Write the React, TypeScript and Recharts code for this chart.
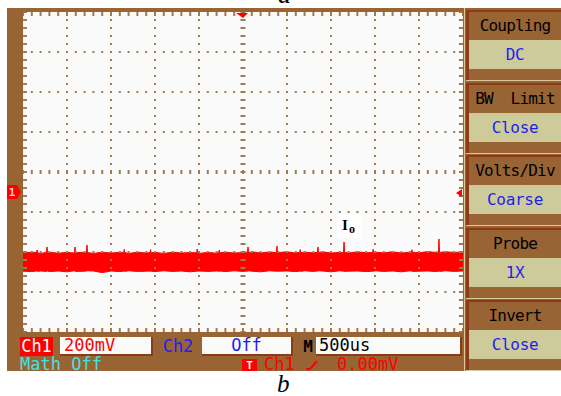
import React from 'react';
import { ComposedChart, Area, XAxis, YAxis, ReferenceLine, ReferenceDot } from 'recharts';

// ---- trace data (time in µs, voltage in mV) ----
const TIME_US = [
  0, 100, 154, 160, 166, 200, 267, 273, 279, 300,
  400, 500, 585, 591, 597, 700, 721, 727, 733, 800,
  900, 1000, 1100, 1144, 1150, 1156, 1200, 1300, 1400, 1444,
  1450, 1456, 1500, 1600, 1700, 1800, 1900, 1974, 1980, 1986,
  2000, 2100, 2200, 2224, 2230, 2236, 2300, 2400, 2500, 2551,
  2557, 2563, 2600, 2700, 2800, 2880, 2886, 2892, 2900, 3000,
  3100, 3144, 3150, 3156, 3200, 3300, 3346, 3352, 3358, 3400,
  3500, 3600, 3642, 3648, 3654, 3700, 3800, 3900, 3974, 3980,
  3986, 4000, 4100, 4200, 4300, 4400, 4414, 4420, 4426, 4500,
  4600, 4700, 4721, 4727, 4733, 4800, 4900, 5000,
];
const TOP_MV = [
  -404, -401, -403, -390, -405, -407, -402, -375, -404, -401,
  -406, -402, -405, -375, -403, -402, -406, -365, -403, -407,
  -401, -405, -402, -404, -387, -403, -407, -401, -405, -403,
  -388, -404, -402, -407, -401, -405, -403, -404, -385, -402,
  -407, -402, -406, -403, -390, -404, -401, -405, -403, -401,
  -375, -404, -399, -405, -400, -403, -370, -404, -403, -399,
  -405, -402, -388, -403, -401, -404, -402, -375, -403, -399,
  -405, -402, -404, -350, -402, -405, -399, -404, -402, -386,
  -403, -401, -404, -399, -405, -401, -402, -389, -401, -404,
  -398, -403, -401, -335, -402, -399, -402, -400,
];
const BOTTOM_MV = [
  -496, -498, -495, -496, -497, -495, -497, -496, -495, -498,
  -495, -499, -494, -496, -497, -496, -495, -496, -494, -495,
  -503, -495, -498, -496, -495, -497, -494, -497, -496, -495,
  -497, -496, -498, -494, -497, -495, -499, -496, -495, -497,
  -495, -497, -495, -496, -497, -495, -498, -494, -497, -495,
  -497, -494, -496, -499, -494, -496, -495, -497, -496, -495,
  -498, -496, -495, -497, -494, -497, -495, -496, -494, -495,
  -499, -494, -496, -495, -497, -496, -495, -498, -496, -495,
  -497, -494, -497, -495, -499, -494, -496, -495, -497, -496,
  -495, -498, -496, -495, -497, -494, -497, -495,
];

// ---- graticule ----
const X_DOMAIN = [0, 5000];
const Y_DOMAIN = [-800, 800];
const X_GRID_US = [500, 1000, 1500, 2000, 3000, 3500, 4000, 4500];
const Y_GRID_MV = [-600, -400, -200, 200, 400, 600];
const GROUND_MV = -100;
const TRIG_LEVEL_MV = -105;
const TRIG_TIME_US = 2500;

// ---- texts ----
const MENU_TITLES = ['Coupling', 'BW  Limit', 'Volts/Div', 'Probe', 'Invert'];
const MENU_VALUES = ['DC', 'Close', 'Coarse', '1X', 'Close'];
const CH1_LABEL = 'Ch1';
const CH1_SCALE = '200mV';
const CH2_LABEL = 'Ch2';
const CH2_STATE = 'Off';
const TIMEBASE_LABEL = 'M';
const TIMEBASE = '500us';
const MATH_STATE = 'Math Off';
const TRIG_SRC = 'Ch1';
const TRIG_LEVEL = '0.00mV';
const TRACE_LABEL = 'I';
const TRACE_SUB = 'o';

const data = TIME_US.map((t, i) => ({ t, band: [BOTTOM_MV[i], TOP_MV[i]] }));

const BROWN = '#986434';
const RUST = '#8E3A14';
const BEIGE = '#CECB9B';
const DOT = '#A27A4C';
const MONO = '"DejaVu Sans Mono", "Liberation Mono", monospace';
const BLUE = '#1E1EF0';

const abs = (l: number, t: number, w: number, h: number, extra: any = {}): any => ({
  position: 'absolute', left: l, top: t, width: w, height: h, boxSizing: 'border-box', ...extra,
});

const centerText = (color: string, size: number): any => ({
  display: 'flex', alignItems: 'center', justifyContent: 'center',
  color, fontFamily: MONO, fontSize: size, whiteSpace: 'pre', lineHeight: 1,
});

export default function App() {
  const X_EDGE = 22.73; // 2px in µs
  const Y_EDGE = 10; // 2px in mV
  return (
    <div style={{ position: 'absolute', left: 0, top: 0, width: 561, height: 396, background: '#fff', overflow: 'hidden' }}>
      {/* frame */}
      <div style={abs(7, 8, 554, 363, { background: BROWN })} />
      <div style={abs(23, 12, 440, 320, { background: '#FAFAFA' })} />
      <div style={abs(464, 8, 1, 363, { background: '#D9C9A0' })} />

      <ComposedChart
        width={561}
        height={396}
        data={data}
        margin={{ top: 12, right: 98, bottom: 64, left: 23 }}
        style={{ position: 'absolute', left: 0, top: 0 }}
      >
        <XAxis dataKey="t" type="number" domain={X_DOMAIN} hide allowDataOverflow />
        <YAxis type="number" domain={Y_DOMAIN} hide allowDataOverflow />
        {Y_GRID_MV.map((v) => (
          <ReferenceLine key={'h' + v} y={v} stroke={DOT} strokeWidth={2} strokeDasharray="2 6.8" strokeDashoffset={1} />
        ))}
        {X_GRID_US.map((v) => (
          <ReferenceLine key={'v' + v} x={v} stroke={DOT} strokeWidth={2} strokeDasharray="2 6" strokeDashoffset={1} />
        ))}
        <ReferenceLine y={0} stroke={DOT} strokeWidth={4} strokeDasharray="2 6.8" strokeDashoffset={1} />
        <ReferenceLine x={TRIG_TIME_US} stroke={DOT} strokeWidth={5} strokeDasharray="2 6" strokeDashoffset={1} />
        <ReferenceLine y={Y_DOMAIN[1] - Y_EDGE} stroke={DOT} strokeWidth={4} strokeDasharray="2 6.8" strokeDashoffset={1} />
        <ReferenceLine y={Y_DOMAIN[0] + Y_EDGE} stroke={DOT} strokeWidth={4} strokeDasharray="2 6.8" strokeDashoffset={1} />
        <ReferenceLine x={X_DOMAIN[0] + X_EDGE} stroke={DOT} strokeWidth={4} strokeDasharray="2 6" strokeDashoffset={1} />
        <ReferenceLine x={X_DOMAIN[1] - X_EDGE} stroke={DOT} strokeWidth={4} strokeDasharray="2 6" strokeDashoffset={1} />
        <Area
          dataKey="band"
          type="linear"
          stroke="#FF0000"
          strokeWidth={1}
          fill="#FF0000"
          fillOpacity={1}
          isAnimationActive={false}
          dot={false}
          activeDot={false}
        />
        <ReferenceDot
          x={X_DOMAIN[0]}
          y={GROUND_MV}
          shape={(p: any) => (
            <g>
              <polygon
                points={`${p.cx - 16},${p.cy - 7} ${p.cx - 6},${p.cy - 7} ${p.cx - 2},${p.cy} ${p.cx - 6},${p.cy + 7} ${p.cx - 16},${p.cy + 7}`}
                fill="#FF0000"
              />
              <text x={p.cx - 11} y={p.cy + 4} fill="#FFD0D0" fontSize={11} fontFamily={MONO} fontWeight="bold" textAnchor="middle">1</text>
            </g>
          )}
        />
        <ReferenceDot
          x={X_DOMAIN[1]}
          y={TRIG_LEVEL_MV}
          shape={(p: any) => (
            <polygon points={`${p.cx - 7},${p.cy} ${p.cx - 1},${p.cy - 4} ${p.cx - 1},${p.cy + 4}`} fill="#FF0000" />
          )}
        />
        <ReferenceDot
          x={TRIG_TIME_US}
          y={Y_DOMAIN[1]}
          shape={(p: any) => (
            <polygon points={`${p.cx - 7},${p.cy + 1} ${p.cx + 5},${p.cy + 1} ${p.cx},${p.cy + 6}`} fill="#FF0000" />
          )}
        />
      </ComposedChart>

      {/* captions & label */}
      <svg width={561} height={396} style={{ position: 'absolute', left: 0, top: 0, pointerEvents: 'none' }}>
        <text x={278} y={3} fontFamily='"Liberation Serif", serif' fontStyle="italic" fontSize={26} fill="#000">a</text>
        <text x={277} y={392} fontFamily='"Liberation Serif", serif' fontStyle="italic" fontSize={25} fill="#000">b</text>
        <rect x={337} y={215} width={25} height={23} fill="#FFFFFF" />
        <text x={342} y={230} fontFamily='"Liberation Serif", serif' fontWeight="bold" fontSize={15} fill="#000">{TRACE_LABEL}</text>
        <text x={349} y={233} fontFamily='"Liberation Serif", serif' fontWeight="bold" fontSize={12} fill="#000">{TRACE_SUB}</text>
        <polyline points="306,369 310,369 317,361" fill="none" stroke="#FF0000" strokeWidth={2} />
      </svg>

      {/* status bar */}
      <div style={abs(20, 337, 33, 19, { background: '#FF0000', ...centerText('#FFFFFF', 17) })}>{CH1_LABEL}</div>
      <div style={abs(60, 337, 93, 19, { background: '#FAFAFA', borderRight: `2px solid ${RUST}`, borderBottom: `2px solid ${RUST}`, ...centerText('#FF0000', 17), justifyContent: 'flex-start', paddingLeft: 4 })}>{CH1_SCALE}</div>
      <div style={abs(160, 337, 36, 19, centerText(BLUE, 17))}>{CH2_LABEL}</div>
      <div style={abs(202, 337, 91, 19, { background: '#FAFAFA', borderRight: `2px solid ${RUST}`, borderBottom: `2px solid ${RUST}`, ...centerText(BLUE, 17) })}>{CH2_STATE}</div>
      <div style={abs(301, 337, 14, 19, { ...centerText('#000', 16), fontWeight: 'bold' })}>{TIMEBASE_LABEL}</div>
      <div style={abs(316, 337, 146, 19, { background: '#FAFAFA', borderRight: `2px solid ${RUST}`, borderBottom: `2px solid ${RUST}`, ...centerText('#000', 17), justifyContent: 'flex-start', paddingLeft: 3 })}>{TIMEBASE}</div>
      <div style={abs(20, 357, 100, 15, { ...centerText('#3FE2E2', 17), justifyContent: 'flex-start' })}>{MATH_STATE}</div>
      <div style={abs(242, 359, 15, 12, { background: '#FF0000', ...centerText('#FFFFFF', 11), fontWeight: 'bold' })}>T</div>
      <div style={abs(264, 357, 36, 15, { ...centerText('#FF0000', 17), justifyContent: 'flex-start' })}>{TRIG_SRC}</div>
      <div style={abs(337, 357, 70, 15, { ...centerText('#FF0000', 17), justifyContent: 'flex-start' })}>{TRIG_LEVEL}</div>

      {/* right menu */}
      {MENU_TITLES.map((title, i) => {
        const top = Math.round(10 + i * 72.5);
        return (
          <React.Fragment key={title}>
            <div style={abs(466, top, 95, 70, { background: BROWN, borderLeft: `3px solid ${RUST}`, borderTop: `2px solid ${RUST}` })} />
            <div style={abs(469, top + 2, 92, 27, { ...centerText('#000', 16), letterSpacing: -0.8 })}>{title}</div>
            <div style={abs(469, top + 30, 92, 29, { background: BEIGE, ...centerText(BLUE, 16), letterSpacing: -0.3 })}>{MENU_VALUES[i]}</div>
            <div style={abs(466, top + 70, 95, 1, { background: '#D9C9A0' })} />
          </React.Fragment>
        );
      })}
    </div>
  );
}
